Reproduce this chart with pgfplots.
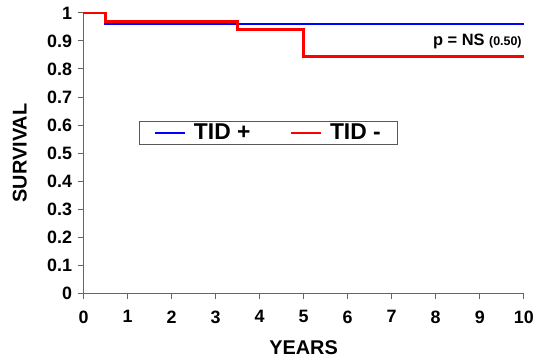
\documentclass[border=0pt]{standalone}
\usepackage{pgfplots}
\pgfplotsset{compat=1.18}
\usepackage{fontspec}
\setmainfont{Liberation Sans}
\begin{document}
\begin{tikzpicture}
\begin{axis}[
  scale only axis,
  width=443bp, height=282bp,
  xmin=0, xmax=10, ymin=0, ymax=1,
  axis lines*=left,
  axis line style={draw=gray!80!black, line width=1.3pt},
  every tick/.style={draw=gray!80!black, line width=1pt},
  tick align=outside,
  major tick length=6bp,
  xtick={0,1,...,10},
  ytick={0,0.1,...,1},
  yticklabel style={/pgf/number format/fixed, /pgf/number format/precision=1, xshift=-2bp},
  xticklabel style={yshift=-8bp},
  /pgf/number format/assume math mode=true,
  ticklabel style={font=\fontsize{18bp}{21bp}\selectfont\bfseries},
  xlabel={YEARS}, ylabel={SURVIVAL},
  xlabel style={at={(axis description cs:0.5,0)}, anchor=center, yshift=-55bp, font=\fontsize{20bp}{23bp}\selectfont\bfseries},
  ylabel style={at={(axis description cs:0,0.5)}, anchor=center, rotate=0, yshift=64bp, font=\fontsize{20bp}{23bp}\selectfont\bfseries},
  clip=false,
  legend columns=2,
  legend style={at={(axis cs:1.26,0.573)}, anchor=west, draw=gray!70!black, line width=0.8pt,
    font=\fontsize{23bp}{25bp}\selectfont\bfseries, inner xsep=15bp, inner ysep=1bp,
    /tikz/every odd column/.append style={column sep=6bp},
    /tikz/every even column/.append style={column sep=38bp}},
  legend image code/.code={\draw[#1, line width=2pt] (0bp,0bp) -- (30bp,0bp);},
]
\addplot[const plot, blue, line width=2.6pt] coordinates {(0,1) (0.5,0.96) (10,0.96)};
\addlegendentry{TID +}
\addplot[const plot, red, line width=2.6pt] coordinates {(0,1) (0.5,0.97) (3.5,0.94) (5,0.845) (10,0.845)};
\addlegendentry{TID -}
\node[anchor=east, inner sep=0pt, xshift=-2bp, font=\fontsize{16.5bp}{18bp}\selectfont\bfseries] at (axis cs:10,0.897) {p = NS {\fontsize{12.5bp}{14bp}\selectfont (0.50)}};
\path (rel axis cs:0,0) ++(-84bp,-65bp);
\path (rel axis cs:1,1) ++(10bp,13bp);
\end{axis}
\end{tikzpicture}
\end{document}
